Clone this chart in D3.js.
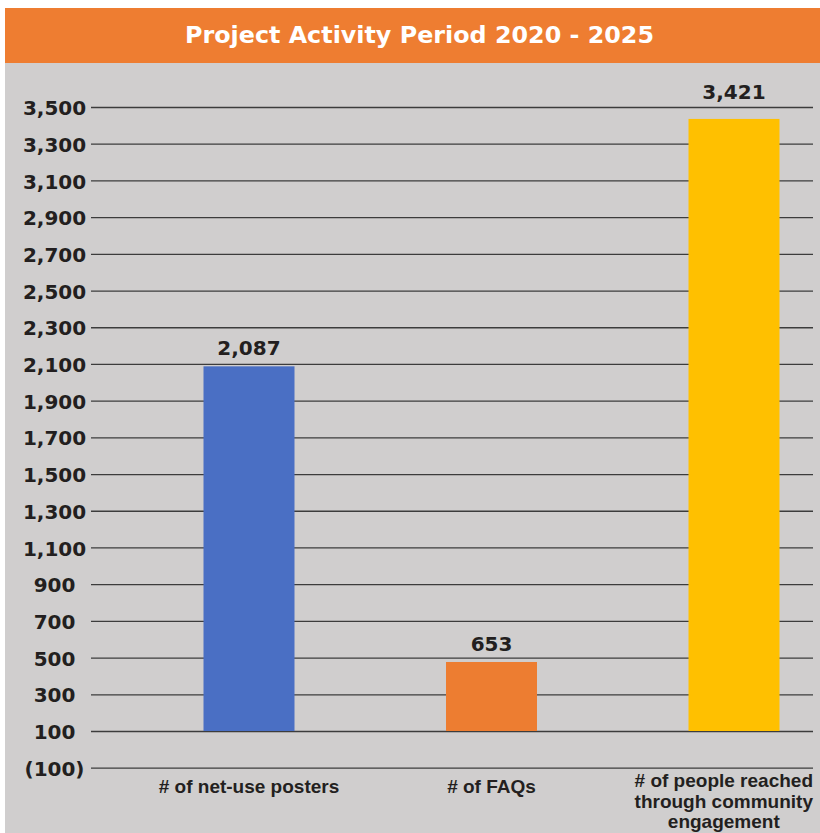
<!DOCTYPE html>
<html>
<head>
<meta charset="utf-8">
<script src="https://cdn.jsdelivr.net/npm/d3@7"></script>
<style>
  body { margin: 0; background: #fff; }
  .axis text, .value-label { font-family: 'DejaVu Sans', sans-serif; font-weight: bold; font-size: 20px; fill: #231f20; }
  .cat-label { font-family: 'Liberation Sans', Arial, sans-serif; font-weight: bold; font-size: 19px; fill: #231f20; }
  .title { font-family: 'DejaVu Sans', sans-serif; font-weight: bold; font-size: 23px; fill: #fff; }
  .axis line { stroke: #3c3c3c; stroke-width: 1.3; }
  .axis .domain { display: none; }
</style>
</head>
<body>
<svg id="chart"></svg>
<script>
var chartTitle = 'Project Activity Period 2020 - 2025';
var categories = ['# of net-use posters', '# of FAQs', '# of people reached through community engagement'];
// bar heights as they are drawn in the picture
var barValues = [2087, 476, 3435];
// labels printed above the bars
var valueLabels = ['2,087', '653', '3,421'];
var barColors = ['#4a6fc4', '#ed7d31', '#ffc000'];
var yTicks = [-100, 100, 300, 500, 700, 900, 1100, 1300, 1500, 1700, 1900, 2100, 2300, 2500, 2700, 2900, 3100, 3300, 3500];
var baseValue = 100;

var width = 820, height = 833;
var gridLeft = 91, gridRight = 813;
var barWidth = 91;

var svg = d3.select('#chart')
  .attr('width', width)
  .attr('height', height);

// grey panel + orange title bar
svg.append('rect')
  .attr('x', 5).attr('y', 63)
  .attr('width', width - 5).attr('height', height - 63)
  .attr('fill', '#d0cece');

svg.append('rect')
  .attr('x', 5).attr('y', 8)
  .attr('width', width - 5).attr('height', 55)
  .attr('fill', '#ee7d31');

svg.append('text')
  .attr('class', 'title')
  .attr('x', 419.5)
  .attr('y', 43)
  .attr('text-anchor', 'middle')
  .attr('textLength', 469)
  .attr('lengthAdjust', 'spacingAndGlyphs')
  .text(chartTitle);

// scales
var y = d3.scaleLinear().domain([baseValue, 3500]).range([731, 107]);
var x = d3.scalePoint().domain(categories).range([249, 734]);

var fmt = function(d) {
  return d < 0 ? '(' + d3.format(',')(-d) + ')' : d3.format(',')(d);
};

// y axis with gridlines
var yAxis = svg.append('g')
  .attr('class', 'axis')
  .attr('transform', 'translate(' + gridLeft + ',0)')
  .call(d3.axisLeft(y).tickValues(yTicks).tickSize(-(gridRight - gridLeft)).tickFormat(fmt));

yAxis.selectAll('.tick text')
  .attr('x', -36.5)
  .attr('dy', '0.38em')
  .attr('text-anchor', 'middle');

// bars
svg.selectAll('.bar')
  .data(barValues)
  .enter().append('rect')
  .attr('class', 'bar')
  .attr('x', function(d, i) { return x(categories[i]) - barWidth / 2; })
  .attr('y', function(d) { return y(d); })
  .attr('width', barWidth)
  .attr('height', function(d) { return y(baseValue) - y(d); })
  .attr('fill', function(d, i) { return barColors[i]; });

// value labels, pushed above the top gridline when they would sit on it
var yTop = y(3500);
svg.selectAll('.value-label')
  .data(barValues)
  .enter().append('text')
  .attr('class', 'value-label')
  .attr('x', function(d, i) { return x(categories[i]); })
  .attr('y', function(d) {
    var ly = y(d) - 11;
    return ly < yTop + 16 ? yTop - 8 : ly;
  })
  .attr('text-anchor', 'middle')
  .text(function(d, i) { return valueLabels[i]; });

// category labels, wrapped and kept inside the panel
var catText = svg.selectAll('.cat-label')
  .data(categories)
  .enter().append('text')
  .attr('class', 'cat-label')
  .attr('text-anchor', 'middle');

catText.each(function(d) {
  var t = d3.select(this);
  var words = d.split(' ');
  var lines = [];
  var line = [];
  var tmp = t.append('tspan');
  var maxW = 0;
  words.forEach(function(w) {
    line.push(w);
    tmp.text(line.join(' '));
    if (tmp.node().getComputedTextLength() > 195 && line.length > 1) {
      line.pop();
      lines.push(line.join(' '));
      line = [w];
    }
  });
  lines.push(line.join(' '));
  lines.forEach(function(l) {
    tmp.text(l);
    maxW = Math.max(maxW, tmp.node().getComputedTextLength());
  });
  tmp.remove();
  var cx = Math.min(x(d), gridRight - maxW / 2);
  var top = 793 - (lines.length - 1) * 3;
  lines.forEach(function(l, i) {
    t.append('tspan')
      .attr('x', cx)
      .attr('y', top + i * 20.5)
      .text(l);
  });
});
</script>
</body>
</html>
